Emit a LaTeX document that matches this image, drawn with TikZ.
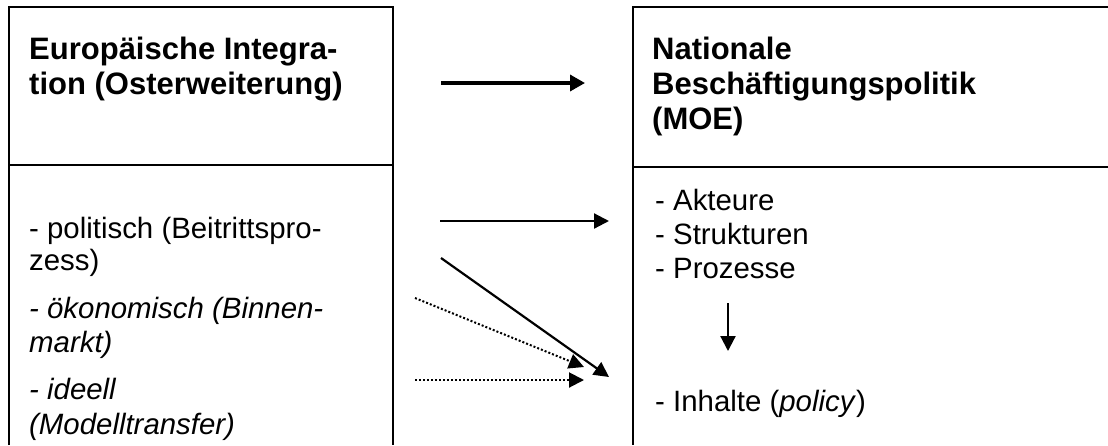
\documentclass[tikz,border=0pt]{standalone}
\usepackage{fontspec}
\setmainfont{Liberation Sans}
\usetikzlibrary{arrows.meta}
\begin{document}
\begin{tikzpicture}[x=1pt,y=-1pt,
  frame/.style={line width=1.6pt},
  head/.style={inner sep=0pt,anchor=base west,font=\fontsize{31}{35}\selectfont\bfseries},
  body/.style={inner sep=0pt,anchor=base west,font=\fontsize{29.4}{34}\selectfont},
  bodyit/.style={body,font=\fontsize{29.4}{34}\selectfont\itshape},
  link/.style={line width=2.2pt,-{Triangle[length=15pt,width=15pt]}},
  thicklink/.style={line width=3.4pt,-{Triangle[length=15pt,width=16pt]}},
  dotlink/.style={line width=2pt,dotted,-{Triangle[length=15pt,width=15pt]}}]
\useasboundingbox (0,0) rectangle (1108,445);

% open-ended boxes
\draw[frame] (9,445) -- (9,7) -- (393,7) -- (393,445);
\draw[frame] (9,165) -- (393,165);
\draw[frame] (1110,7) -- (633,7) -- (633,445);
\draw[frame] (633,167) -- (1110,167);

% left box heading
\node[head] (eu1) at (29,59) {Europäische Integra-};
\node[head] (eu2) at (29,94) {tion (Osterweiterung)};

% right box heading
\node[head] (nb1) at (652,59) {Nationale};
\node[head] (nb2) at (652,94) {Beschäftigungspolitik};
\node[head] (nb3) at (652,129) {(MOE)};

% left box contents
\node[body] (po1) at (29,238) {- politisch (Beitrittspro-};
\node[body] (po2) at (29,270) {zess)};
\node[bodyit] (ok1) at (29,318) {- ökonomisch (Binnen-};
\node[bodyit] (ok2) at (29,352) {markt)};
\node[bodyit] (id1) at (29,399) {- ideell};
\node[bodyit] (id2) at (29,434) {(Modelltransfer)};

% right box contents
\node[body] (ak) at (655,210) {- Akteure};
\node[body] (st) at (655,244) {- Strukturen};
\node[body] (pr) at (655,278) {- Prozesse};
\node[body] (in) at (655,411) {- Inhalte (\textit{policy})};

% connector end points
\coordinate (a0) at (441,83);  \coordinate (a1) at (585,83);
\coordinate (b0) at (440,221); \coordinate (b1) at (609,221);
\coordinate (c0) at (441,258); \coordinate (c1) at (609,377);
\coordinate (d0) at (415,298); \coordinate (d1) at (584,367);
\coordinate (e0) at (415,380); \coordinate (e1) at (584,380);
\coordinate (f0) at (728,303); \coordinate (f1) at (728,351);

\draw[thicklink] (a0) -- (a1);
\draw[link] (b0) -- (b1);
\draw[link] (c0) -- (c1);
\draw[dotlink] (d0) -- (d1);
\draw[dotlink] (e0) -- (e1);
\draw[link] (f0) -- (f1);
\end{tikzpicture}
\end{document}
